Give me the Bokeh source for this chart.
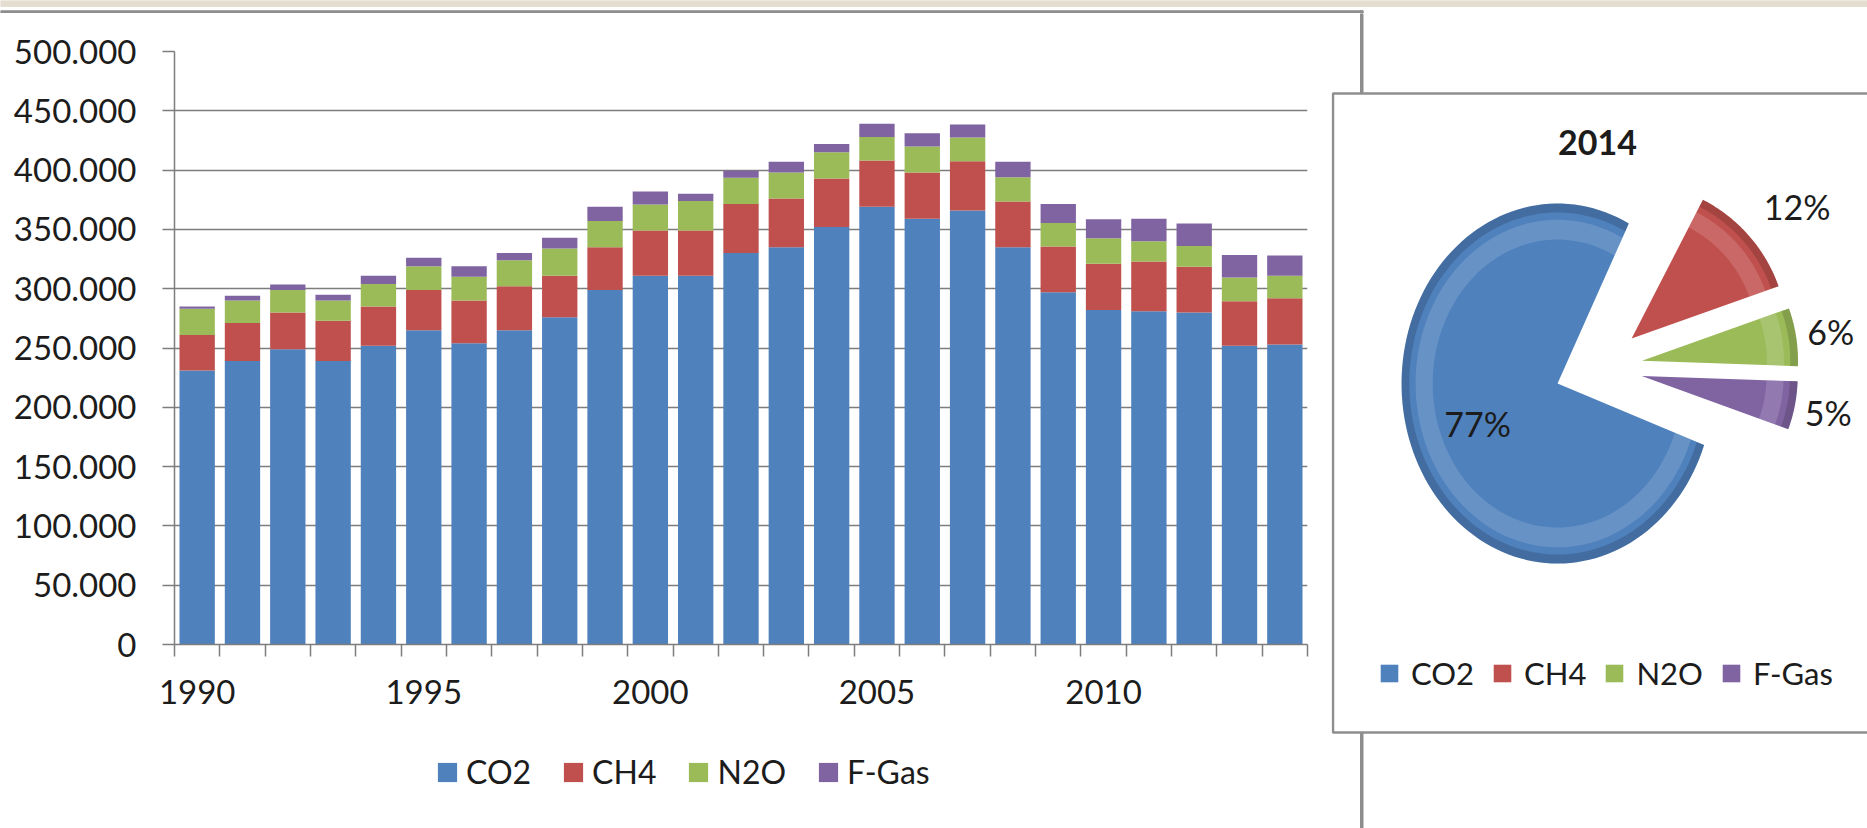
import numpy as np
from bokeh.plotting import figure
from bokeh.models import ColumnDataSource, Range1d, FixedTicker, Legend, LegendItem
from bokeh.layouts import column, row
from bokeh.embed import file_html
from bokeh.resources import INLINE
from bokeh.core.properties import value

# ---------------- data ----------------
years = list(range(1990, 2015))
co2 = [231000, 239000, 249000, 239000, 252000, 265000, 254000, 265000, 276000, 299000,
       311000, 311000, 330000, 335000, 352000, 369000, 359000, 366000, 335000, 297000,
       282000, 281000, 280000, 252000, 253000]
ch4 = [30000, 32000, 31000, 34000, 33000, 34000, 36000, 37000, 35000, 36000,
       38000, 38000, 41500, 41000, 41000, 39000, 39000, 41500, 38500, 38500,
       39000, 42000, 38500, 37500, 39000]
n2o = [22000, 19000, 19000, 17000, 19000, 20000, 20000, 22000, 23000, 22000,
       22000, 25000, 22000, 22000, 22000, 20000, 22000, 20000, 20500, 20000,
       21500, 17000, 17500, 20000, 19000]
fgas = [2000, 4000, 4500, 5000, 7000, 7000, 9000, 6000, 9000, 12000,
        11000, 6000, 6000, 9000, 7000, 11000, 11000, 11000, 13000, 16000,
        16000, 19000, 19000, 19000, 17000]
gas_names = ["CO2", "CH4", "N2O", "F-Gas"]
y_ticks = [0, 50000, 100000, 150000, 200000, 250000, 300000, 350000, 400000, 450000, 500000]
y_tick_labels = ["0", "50.000", "100.000", "150.000", "200.000", "250.000",
                 "300.000", "350.000", "400.000", "450.000", "500.000"]
x_label_years = [1990, 1995, 2000, 2005, 2010]
pie_title = "2014"
pie_pct = [77, 12, 6, 5]
pie_labels = ["77%", "12%", "6%", "5%"]

# ---------------- style ----------------
colors = ["#4F81BD", "#C0504D", "#9BBB59", "#8064A2"]
FONT = "Lato"
TEXT = "#1c1c1c"
AXIS = "#7d7d7d"
FRAME = "#8e8e8e"
STRIP = "#e3ded0"
PAGE_H = 828
STRIP_H = 13
BAR_W = 1331
PIE_W = 1867 - BAR_W
LEG_TOP = 740          # page y where the bar-chart legend strip starts

def bare(fig):
    fig.frame_align = False
    return fig

# ---------------- top strip ----------------
s = bare(figure(width=1867, height=STRIP_H, x_range=Range1d(0, 1867), y_range=Range1d(0, STRIP_H),
                x_axis_type=None, y_axis_type=None, min_border=0, output_backend="svg",
                toolbar_location=None, outline_line_color=None,
                background_fill_color="white", border_fill_color="white"))
s.quad(left=0, right=1867, bottom=STRIP_H - 6, top=STRIP_H, color=STRIP)
s.quad(left=0, right=1362.5, bottom=0.3, top=2.7, color=FRAME)
s.quad(left=1360, right=1362.5, bottom=0, top=2.7, color=FRAME)

# ---------------- bar chart ----------------
p = bare(figure(width=BAR_W, height=LEG_TOP - STRIP_H,
                x_range=Range1d(years[0] - 0.5, years[-1] + 0.5), y_range=Range1d(0, 500000),
                min_border_left=174, min_border_right=24, min_border_top=51 - STRIP_H,
                min_border_bottom=LEG_TOP - 644, output_backend="svg", toolbar_location=None,
                outline_line_color=None, background_fill_color="white",
                border_fill_color="white"))
src = ColumnDataSource(dict(year=years, co2=co2, ch4=ch4, n2o=n2o, fgas=fgas))
stackers = ["co2", "ch4", "n2o", "fgas"]
p.vbar_stack(stackers, x="year", width=0.78, color=colors, line_color=None, source=src)

p.xgrid.visible = False
p.ygrid.grid_line_color = AXIS
p.ygrid.grid_line_width = 1.5

p.xaxis.ticker = FixedTicker(ticks=x_label_years,
                             minor_ticks=[y - 0.5 for y in years] + [years[-1] + 0.5])
p.xaxis.major_tick_out = 0
p.xaxis.major_tick_in = 0
p.xaxis.minor_tick_out = 12
p.xaxis.minor_tick_in = 0
p.xaxis.minor_tick_line_color = AXIS
p.xaxis.minor_tick_line_width = 1.5
p.xaxis.major_label_standoff = 23

p.yaxis.ticker = FixedTicker(ticks=y_ticks)
p.yaxis.major_label_overrides = dict(zip(y_ticks, y_tick_labels))
p.yaxis.major_tick_out = 12
p.yaxis.major_tick_in = 0
p.yaxis.minor_tick_line_color = None
p.yaxis.major_label_standoff = 26

for ax in (p.xaxis, p.yaxis):
    ax.axis_line_color = AXIS
    ax.axis_line_width = 1.5
    ax.major_tick_line_color = AXIS
    ax.major_tick_line_width = 1.5
    ax.major_label_text_font = FONT
    ax.major_label_text_font_size = "33px"
    ax.major_label_text_color = TEXT

# legend strip under the bar chart (its bars fall outside the visible range)
lf = bare(figure(width=BAR_W, height=PAGE_H - LEG_TOP, x_range=Range1d(0, BAR_W),
                 y_range=Range1d(0, PAGE_H - LEG_TOP), x_axis_type=None, y_axis_type=None,
                 min_border=0, output_backend="svg", toolbar_location=None,
                 outline_line_color=None, background_fill_color="white",
                 border_fill_color="white"))
lbars = lf.vbar_stack(stackers, x="year", width=0.78, color=colors, line_color=None, source=src)
leg = Legend(items=[LegendItem(label=n, renderers=[r]) for n, r in zip(gas_names, lbars)],
             location=(435, 37), orientation="horizontal", glyph_width=24, glyph_height=24,
             label_standoff=7, spacing=30, padding=0, margin=0, border_line_color=None,
             background_fill_alpha=0, label_text_font=FONT, label_text_font_size="32px",
             label_text_color=TEXT)
lf.add_layout(leg)

# ---------------- pie chart ----------------
def Y(page_y):
    return PAGE_H - page_y

q = bare(figure(width=PIE_W, height=PAGE_H - STRIP_H, x_range=Range1d(BAR_W, 1867),
                y_range=Range1d(0, PAGE_H - STRIP_H), x_axis_type=None, y_axis_type=None,
                min_border=0, output_backend="svg", toolbar_location=None,
                outline_line_color=None, background_fill_color="white",
                border_fill_color="white"))
# right edge of the bar chart frame, then the pie box on top of it
q.quad(left=1360, right=1362.5, bottom=Y(PAGE_H), top=Y(STRIP_H), color=FRAME)
q.quad(left=1332.5, right=1880, top=Y(93), bottom=Y(732), fill_color="white",
       line_color=FRAME, line_width=2.5)

PIE_CX, PIE_CY = 1598, Y(367)
RX = 156
RY = [180, 156, 156, 156]     # the big slice is drawn taller (3-D look)
EXPLODE = 44
START = np.deg2rad(-20)
frac = np.array(pie_pct, dtype=float) / sum(pie_pct)
bounds = START - np.concatenate([[0.0], np.cumsum(frac * 2 * np.pi)])
starts, ends = bounds[1:], bounds[:-1]
mids = (starts + ends) / 2
cx = PIE_CX + EXPLODE * np.cos(mids)
cy = PIE_CY + EXPLODE * np.sin(mids)

def sector(x0, y0, rx, ry, a0, a1, inner=0.0, outer=1.0):
    t = np.linspace(a0, a1, 120)
    ox = x0 + outer * rx * np.cos(t)
    oy = y0 + outer * ry * np.sin(t)
    if inner <= 0:
        return [x0] + list(ox), [y0] + list(oy)
    ix = x0 + inner * rx * np.cos(t[::-1])
    iy = y0 + inner * ry * np.sin(t[::-1])
    return list(ox) + list(ix), list(oy) + list(iy)

def ring(inner, outer):
    xs, ys = [], []
    for k in range(len(pie_pct)):
        a, b = sector(cx[k], cy[k], RX, RY[k], starts[k], ends[k], inner, outer)
        xs.append(a)
        ys.append(b)
    return xs, ys

xs, ys = ring(0, 1)
wr = q.patches(xs=xs, ys=ys, fill_color=colors, line_color=None)
hx, hy = ring(0.80, 0.91)
q.patches(xs=hx, ys=hy, fill_color="white", fill_alpha=0.14, line_color=None)
dx, dy = ring(0.95, 1.0)
q.patches(xs=dx, ys=dy, fill_color="black", fill_alpha=0.15, line_color=None)

lab_r = np.array([0.55 * RX, 212, 191, 193])
lab_dx = np.array([0, 6, 0, -3])
lab_dy = np.array([-9, -8, 0, 0])
q.text(x=cx + lab_r * np.cos(mids) + lab_dx, y=cy + lab_r * np.sin(mids) + lab_dy,
       text=pie_labels, text_align="center", text_baseline="middle", text_font=value(FONT),
       text_font_size="34px", text_color=TEXT)
q.text(x=[1597], y=[Y(142)], text=[pie_title], text_align="center", text_baseline="middle",
       text_font=value(FONT), text_font_size="34px", text_font_style="bold", text_color=TEXT)

pleg = Legend(items=[LegendItem(label=n, renderers=[wr], index=i) for i, n in enumerate(gas_names)],
              location=(47, 136), orientation="horizontal", glyph_width=22, glyph_height=22,
              label_standoff=11, spacing=17, padding=0, margin=0, border_line_color=None,
              background_fill_alpha=0, label_text_font=FONT, label_text_font_size="31px",
              label_text_color=TEXT)
q.add_layout(pleg)

layout = column(s, row(column(p, lf), q))
open("out.html", "w").write(file_html(layout, INLINE))
